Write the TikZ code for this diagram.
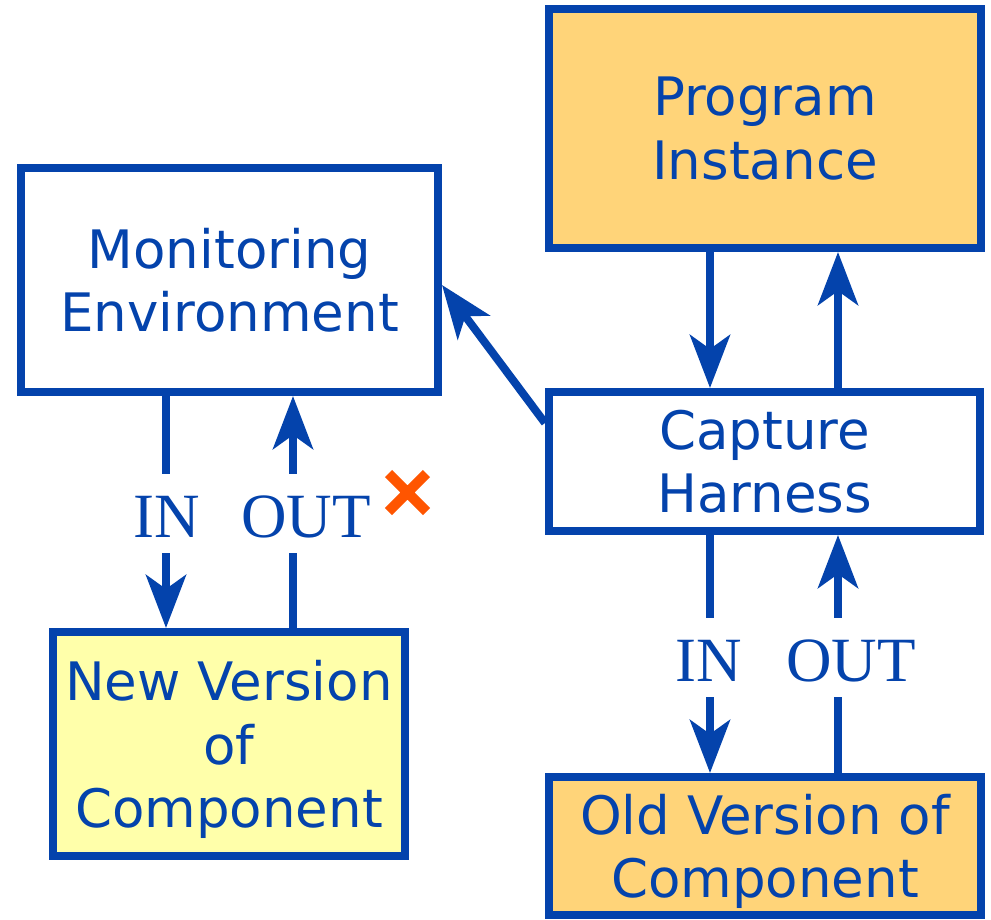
\documentclass[tikz,border=0pt]{standalone}
\usepackage{fontspec}
\newfontfamily\boxfont{DejaVu Sans}
\newfontfamily\lblfont{Liberation Serif}
\usetikzlibrary{arrows.meta}
\definecolor{linkblue}{HTML}{0443AC}
\definecolor{peach}{HTML}{FFD479}
\definecolor{paleyellow}{HTML}{FFFFAA}
\definecolor{crossorange}{HTML}{FF5500}
\tikzset{
  block/.style={draw=linkblue, line width=8pt, text=linkblue, align=center,
    inner sep=0pt, text depth=0pt, font=\boxfont\fontsize{53}{63.5}\selectfont},
  flow/.style={draw=linkblue, line width=8pt,
    -{Stealth[length=53pt,width=40pt,inset=14pt]}},
  portlabel/.style={fill=white, text=linkblue, anchor=base,
    font=\lblfont\fontsize{63}{63}\selectfont,
    inner xsep=2pt, inner ysep=16pt, text height=47pt, text depth=0pt},
}
\begin{document}
\begin{tikzpicture}[x=1pt,y=-1pt]
\useasboundingbox (0,0) rectangle (991,919);

% boxes
\node[block, fill=peach, minimum width=432pt, minimum height=239.5pt] (prog) at (765,128.25) {Program\\Instance};
\node[block, fill=white, minimum width=417pt, minimum height=224pt] (mon) at (229.5,280) {Monitoring\\Environment};
\node[block, fill=white, minimum width=431pt, minimum height=139pt] (cap) at (764.5,461.5) {Capture\\Harness};
\node[block, fill=paleyellow, minimum width=352pt, minimum height=224pt] (new) at (229,744) {New Version\\of\\Component};
\node[block, fill=peach, minimum width=432pt, minimum height=138pt] (old) at (765,846) {Old Version of\\Component};

% x positions of the vertical connectors
\coordinate (xin) at (166,0);
\coordinate (xout) at (293,0);
\coordinate (xdn) at (710,0);
\coordinate (xup) at (838,0);

% connectors
\draw[flow] (prog.south -| xdn) -- (cap.north -| xdn);
\draw[flow] (cap.north -| xup) -- (prog.south -| xup);
\draw[flow] ([yshift=-35pt]cap.north west) -- ([yshift=-5pt]mon.east);
\draw[flow] (mon.south -| xin) -- (new.north -| xin);
\draw[flow] (new.north -| xout) -- (mon.south -| xout);
\draw[flow] (cap.south -| xdn) -- (old.north -| xdn);
\draw[flow] (old.north -| xup) -- (cap.south -| xup);

% port labels
\node[portlabel] (inL) at (167,537) {IN};
\node[portlabel] (outL) at (306,537) {OUT};
\node[portlabel] (inR) at (709,681) {IN};
\node[portlabel] (outR) at (851,681) {OUT};

% failure mark
\draw[crossorange, line width=10pt] (388.5,473.5) -- (426.5,511.5)
  (388.5,511.5) -- (426.5,473.5);
\end{tikzpicture}
\end{document}
